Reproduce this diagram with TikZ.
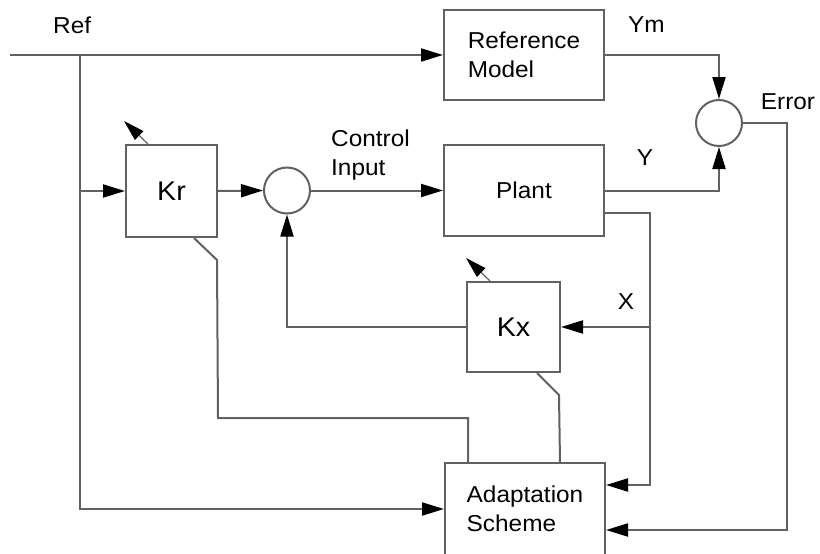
\documentclass[tikz,border=0pt]{standalone}
\usepackage{fontspec}
\setmainfont[FakeStretch=1.06]{Liberation Sans}
\usetikzlibrary{arrows.meta}
\tikzset{
  ln/.style={draw=black!62, line width=2pt, line join=miter},
  tip/.style={-{Triangle[length=22pt,width=13pt,fill=black,color=black]}},
  arr/.style={ln, tip},
  blk/.style={ln, rectangle, inner sep=0pt, align=left, font=\fontsize{23}{29}\selectfont},
  gain/.style={ln, rectangle, inner sep=0pt, font=\fontsize{27}{31}\selectfont},
  sumc/.style={ln, circle, minimum size=46pt, inner sep=0pt},
  lbl/.style={inner sep=0pt, align=left, font=\fontsize{23}{29}\selectfont},
  adj/.style={ln, line width=1.2pt, -{Triangle[length=21pt,width=12pt,fill=black,color=black]}},
}
\begin{document}
\begin{tikzpicture}[x=1pt,y=-1pt]
\useasboundingbox (0,0) rectangle (820,554);
% blocks
\node[blk, minimum width=160pt, minimum height=90pt] (rm) at (524,55) {Reference\\Model};
\node[blk, minimum width=160pt, minimum height=91pt] (pl) at (524,190.5) {Plant};
\node[blk, minimum width=160pt, minimum height=92pt] (ad) at (525,509) {Adaptation\\Scheme};
\node[gain, minimum width=91pt, minimum height=92pt] (kr) at (171.5,191) {Kr};
\node[gain, minimum width=93pt, minimum height=90pt] (kx) at (513.5,327) {Kx};
\node[sumc] (s1) at (287,190.5) {};
\node[sumc] (s2) at (719,123) {};
% labels
\node[lbl, anchor=base west] (lref) at (53,34) {Ref};
\node[lbl, anchor=base west] (lym) at (628,32) {Ym};
\node[lbl, anchor=west] (lci) at (331,155) {Control\\Input};
\node[lbl] (ly) at (645,158) {Y};
\node[lbl] (ler) at (788,102) {Error};
\node[lbl] (lx) at (626,302) {X};
% coordinates
\coordinate (in) at (10,55);
\coordinate (j1) at (80,55);
\coordinate (j2) at (80,191);
\coordinate (j3) at (650,213);
\coordinate (j4) at (650,327);
% connectors
\draw[arr] (in) -- (rm.west);
\draw[arr] (j1) |- (ad.west);
\draw[arr] (j2) -- (kr.west);
\draw[arr] (kr.east) -- (s1.west);
\draw[arr] (s1.east) -- (pl.west);
\draw[arr] (rm.east) -| (s2.north);
\draw[arr] (pl.east) -| (s2.south);
\draw[arr] (s2.east) -- (787,123) -- (787,530) -- (ad.east |- 0,530);
\draw[arr] (pl.east |- j3) -- (j3) -- (650,485) -- (ad.east |- 0,485);
\draw[arr] (j4) -- (kx.east);
\draw[arr] (kx.west) -| (s1.south);
\draw[ln] (kr.south west) ++(69,0) -- ++(23,22) -- (218,418) -- (468,418) -- (ad.north -| 468,0);
\draw[ln] (kx.south west) ++(71,0) -- ++(22,22) -- (ad.north -| 560,0);
% adjustment arrows
\draw[adj] (kr.north west) ++(23,0) -- ++(-24,-23);
\draw[adj] (kx.north west) ++(24,0) -- ++(-24,-23);
\end{tikzpicture}
\end{document}
